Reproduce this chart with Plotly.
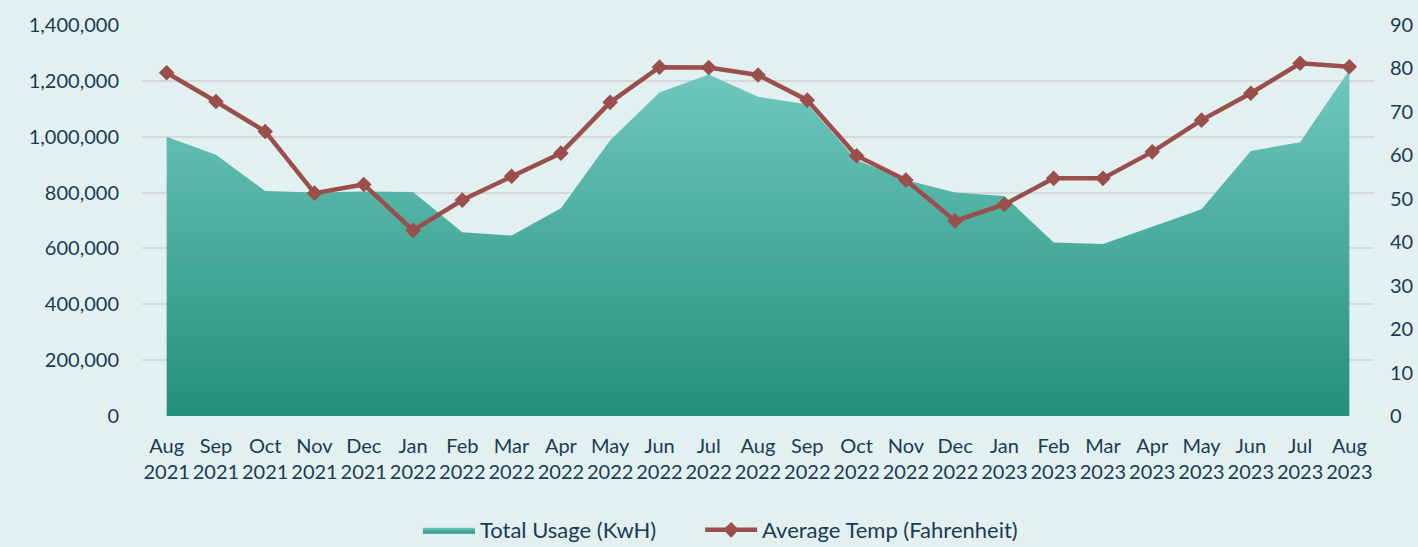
import plotly.graph_objects as go

months = ["Aug", "Sep", "Oct", "Nov", "Dec", "Jan", "Feb", "Mar", "Apr", "May", "Jun", "Jul",
          "Aug", "Sep", "Oct", "Nov", "Dec", "Jan", "Feb", "Mar", "Apr", "May", "Jun", "Jul", "Aug"]
years = ["2021"] * 5 + ["2022"] * 12 + ["2023"] * 8
usage_kwh = [1000000, 935000, 806000, 800000, 804000, 802000, 658000, 646000, 744000, 987000,
             1158000, 1223000, 1143000, 1116000, 917000, 845000, 800000, 788000, 621000, 616000,
             678000, 740000, 949000, 980000, 1239000]
avg_temp_f = [79.0, 72.4, 65.5, 51.3, 53.3, 42.7, 49.7, 55.2, 60.5, 72.2, 80.3, 80.2,
              78.5, 72.7, 59.9, 54.3, 44.9, 48.7, 54.7, 54.7, 60.8, 68.1, 74.3, 81.2, 80.4]

left_ticks = [0, 200000, 400000, 600000, 800000, 1000000, 1200000, 1400000]
right_ticks = [0, 10, 20, 30, 40, 50, 60, 70, 80, 90]

x_idx = list(range(len(months)))
tick_text = [f"{m}<br>{y}" for m, y in zip(months, years)]

text_color = "#1B3A57"
font_family = "Lato, 'Open Sans', sans-serif"

fig = go.Figure()
fig.add_trace(go.Scatter(
    x=x_idx, y=usage_kwh, name="Total Usage (KwH)", mode="lines",
    fill="tozeroy", line=dict(width=0, color="#5DB8AB"),
    fillgradient=dict(type="vertical", start=0, stop=1240000,
                      colorscale=[[0, "#23907A"], [1, "#70C8BF"]]),
    yaxis="y", legend="legend",
))
fig.add_trace(go.Scatter(
    x=x_idx, y=avg_temp_f, name="Average Temp (Fahrenheit)", mode="lines+markers",
    line=dict(color="#9A4F4C", width=4.5),
    marker=dict(symbol="diamond", size=12, color="#9A4F4C"),
    yaxis="y2", legend="legend2",
))

legend_common = dict(orientation="h", xanchor="left", yref="container", y=0.031,
                     yanchor="middle", font=dict(size=22, color=text_color), itemwidth=52)

fig.update_layout(
    width=1418, height=547,
    margin=dict(l=142, r=44, t=25, b=131, autoexpand=False),
    paper_bgcolor="#E2F1EF", plot_bgcolor="#E2F1EF",
    font=dict(family=font_family, size=20, color=text_color),
    showlegend=True,
    legend=dict(x=0.224, **legend_common),
    legend2=dict(x=0.453, **legend_common),
    xaxis=dict(range=[-0.5, 24.5], tickmode="array", tickvals=x_idx, ticktext=tick_text,
               showgrid=False, zeroline=False, showline=False, tickfont=dict(size=20),
               ticks="", ticklabelstandoff=16, automargin=False),
    yaxis=dict(range=[0, 1400000], tickmode="array", tickvals=left_ticks,
               ticktext=[f"{v:,}" for v in left_ticks],
               showgrid=True, gridcolor="#D6D9D9", gridwidth=1.5, zeroline=False,
               showline=False, ticklabelstandoff=22, tickfont=dict(size=20), automargin=False),
    yaxis2=dict(range=[0, 90], tickmode="array", tickvals=right_ticks,
                ticktext=[str(v) for v in right_ticks], overlaying="y", side="right",
                showgrid=False, zeroline=False, showline=False, ticklabelstandoff=15,
                tickfont=dict(size=20), automargin=False),
)

fig.write_html("out.html", config={"displayModeBar": False},
               post_script="document.body.style.margin='0';document.body.style.background='#E2F1EF';")
